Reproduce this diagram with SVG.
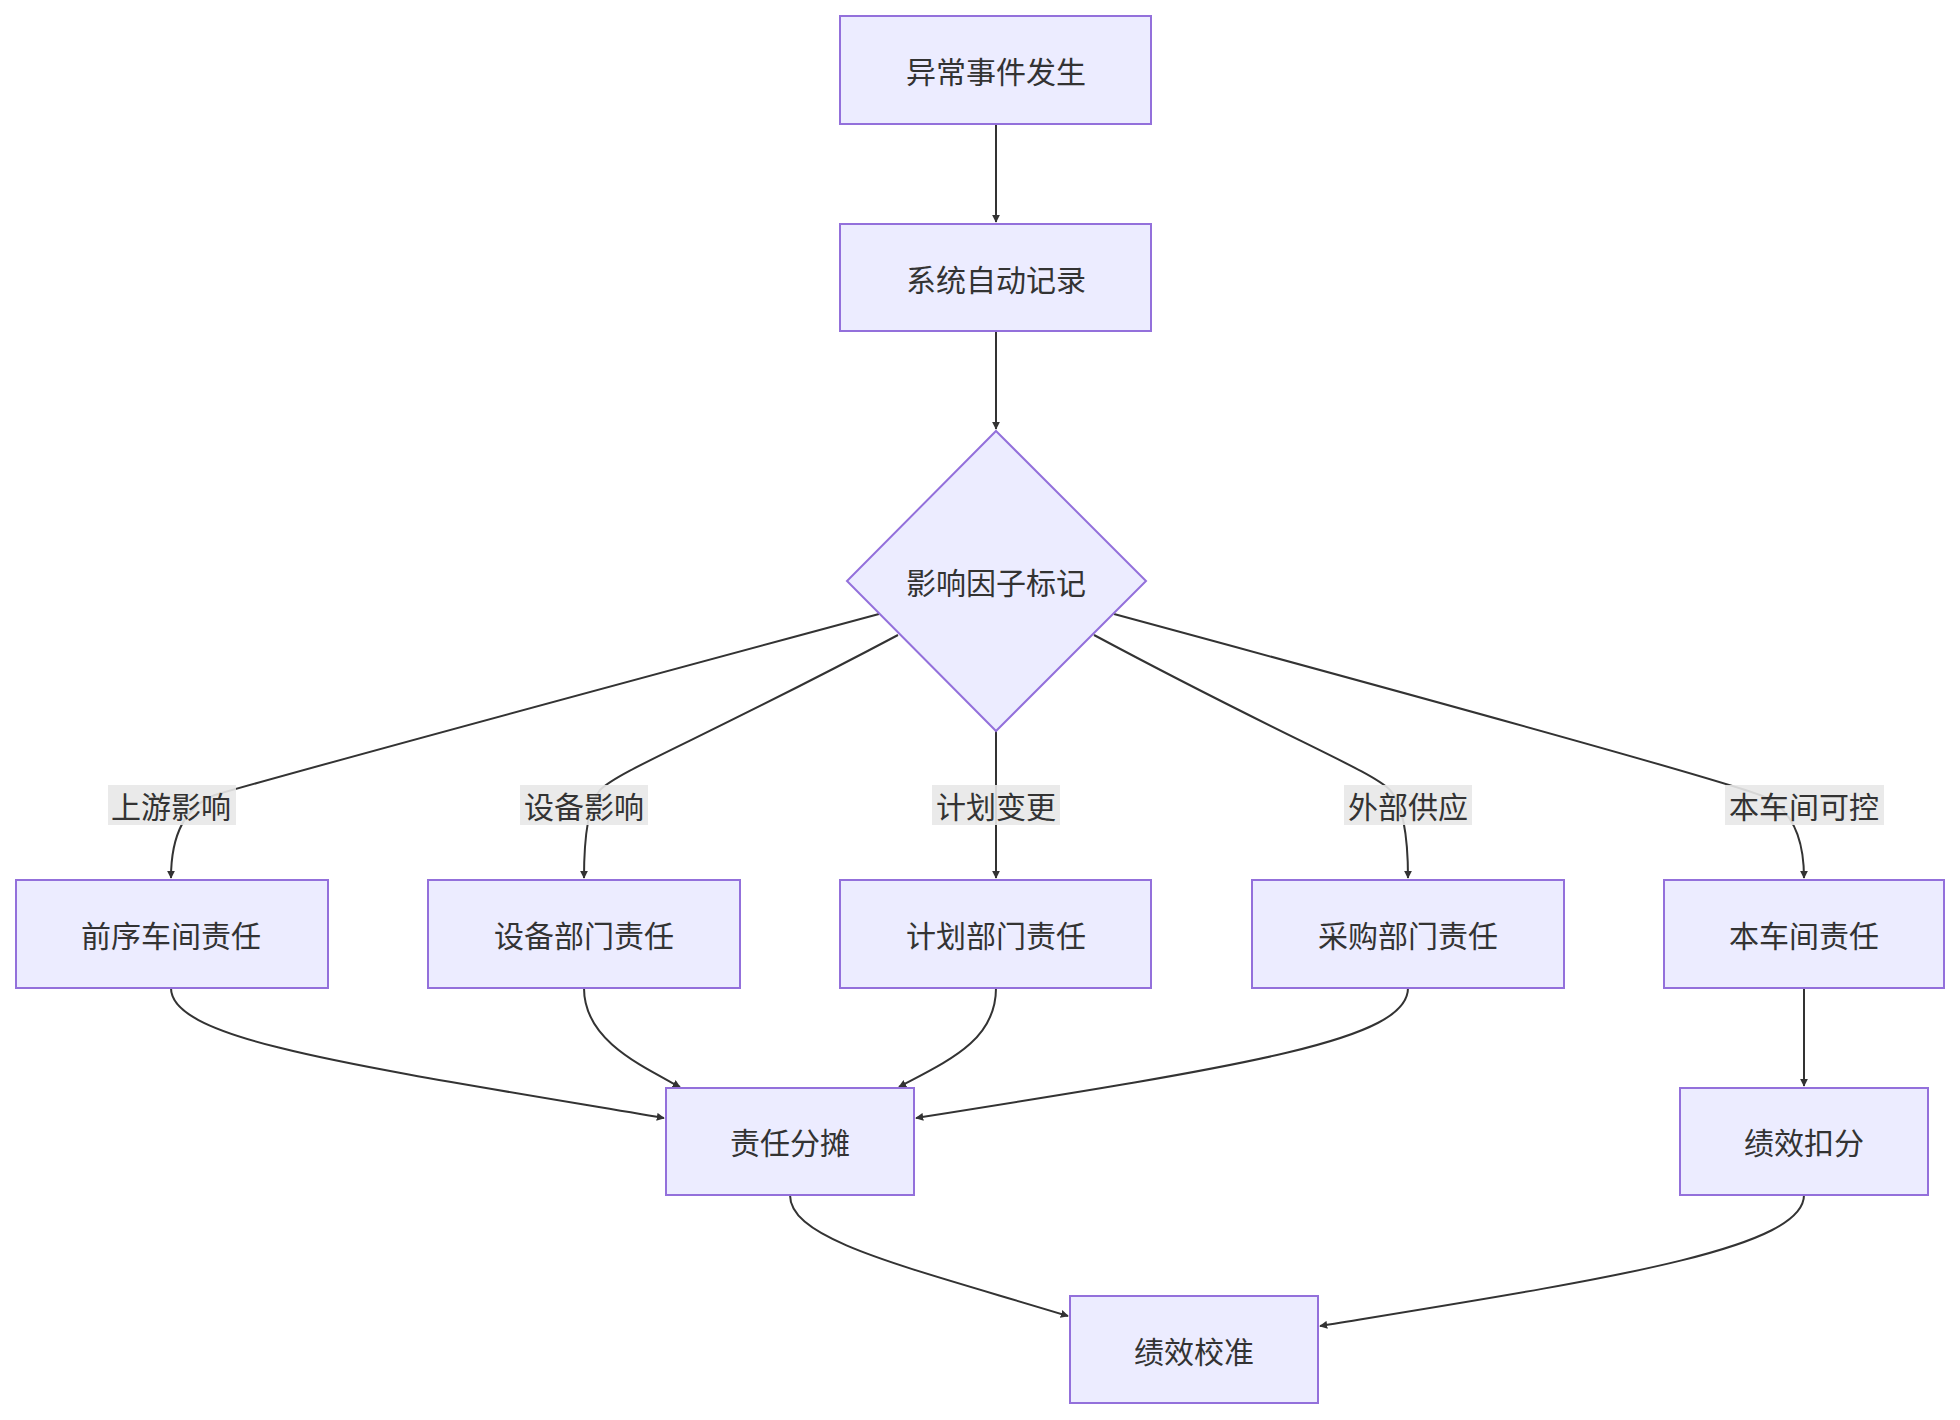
<svg xmlns="http://www.w3.org/2000/svg" width="1960" height="1420" viewBox="0 0 1960 1420">
<style>
.n{fill:#ECECFF;stroke:#9370DB;stroke-width:2}
.t{font-family:"Noto Sans CJK SC","Liberation Sans",sans-serif;font-size:30px;fill:#333;text-anchor:middle;dominant-baseline:central}
.e{fill:none;stroke:#333;stroke-width:2;marker-end:url(#a)}
.lb{fill:#E8E8E8;opacity:0.9}
</style>
<defs><marker id="a" viewBox="0 0 10 10" refX="9" refY="5" markerWidth="8" markerHeight="8" markerUnits="userSpaceOnUse" orient="auto"><path d="M0,0L10,5L0,10z" fill="#333"/></marker></defs>
<rect width="1960" height="1420" fill="#fff"/>
<g id="edges">
<path class="e" d="M996,124V222"/>
<path class="e" d="M996,331V429"/>
<path class="e" d="M879,614Q300,770 215,795Q171,812 171,878"/>
<path class="e" d="M898,635C700,740 620,770 600,790Q584,810 584,878"/>
<path class="e" d="M996,731V878"/>
<path class="e" d="M1094,635C1290,740 1370,770 1390,790Q1408,810 1408,878"/>
<path class="e" d="M1114,614Q1690,770 1760,795Q1804,812 1804,878"/>
<path class="e" d="M171,988C171,1040 350,1065 664,1118"/>
<path class="e" d="M584,988C584,1040 640,1065 680,1087"/>
<path class="e" d="M996,988C996,1040 950,1060 899,1087"/>
<path class="e" d="M1408,988C1408,1040 1250,1065 916,1118"/>
<path class="e" d="M1804,988V1086"/>
<path class="e" d="M790,1195C790,1240 900,1265 1068,1316"/>
<path class="e" d="M1804,1195C1804,1250 1600,1280 1320,1326"/>
</g>
<g id="labels">
<rect class="lb" x="108" y="785" width="128" height="40"/><text class="t" x="171" y="805">上游影响</text>
<rect class="lb" x="520" y="785" width="128" height="40"/><text class="t" x="584" y="805">设备影响</text>
<rect class="lb" x="932" y="785" width="128" height="40"/><text class="t" x="996" y="805">计划变更</text>
<rect class="lb" x="1344" y="785" width="128" height="40"/><text class="t" x="1408" y="805">外部供应</text>
<rect class="lb" x="1725" y="785" width="159" height="40"/><text class="t" x="1804" y="805">本车间可控</text>
</g>
<g id="n1"><rect class="n" x="840" y="16" width="311" height="108"/><text class="t" x="996" y="70">异常事件发生</text></g>
<g id="n2"><rect class="n" x="840" y="224" width="311" height="107"/><text class="t" x="996" y="278">系统自动记录</text></g>
<g id="n3"><path class="n" d="M996,431L1146,581L996,731L847,581z"/><text class="t" x="996" y="581">影响因子标记</text></g>
<g id="n4"><rect class="n" x="16" y="880" width="312" height="108"/><text class="t" x="171" y="934">前序车间责任</text></g>
<g id="n5"><rect class="n" x="428" y="880" width="312" height="108"/><text class="t" x="584" y="934">设备部门责任</text></g>
<g id="n6"><rect class="n" x="840" y="880" width="311" height="108"/><text class="t" x="996" y="934">计划部门责任</text></g>
<g id="n7"><rect class="n" x="1252" y="880" width="312" height="108"/><text class="t" x="1408" y="934">采购部门责任</text></g>
<g id="n8"><rect class="n" x="1664" y="880" width="280" height="108"/><text class="t" x="1804" y="934">本车间责任</text></g>
<g id="n9"><rect class="n" x="666" y="1088" width="248" height="107"/><text class="t" x="790" y="1141">责任分摊</text></g>
<g id="n10"><rect class="n" x="1680" y="1088" width="248" height="107"/><text class="t" x="1804" y="1141">绩效扣分</text></g>
<g id="n11"><rect class="n" x="1070" y="1296" width="248" height="107"/><text class="t" x="1194" y="1350">绩效校准</text></g>
</svg>
